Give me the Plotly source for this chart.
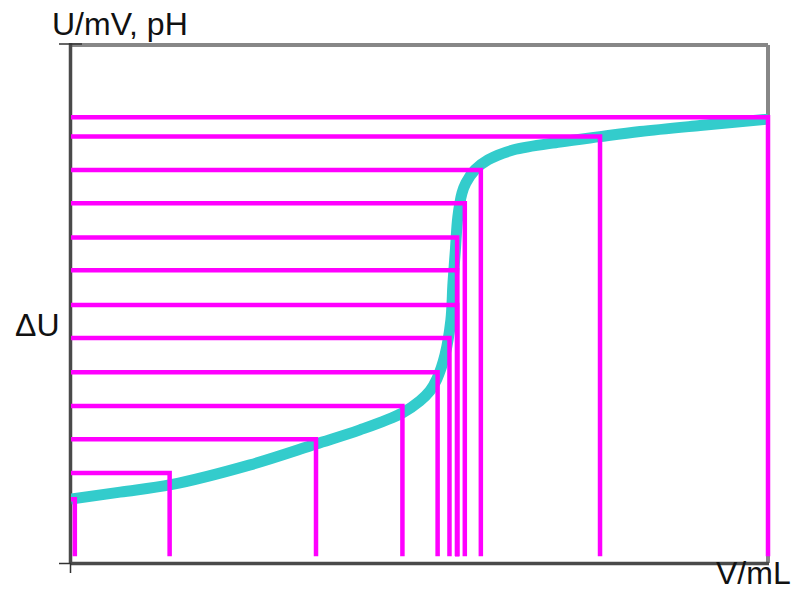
import plotly.graph_objects as go

# Titration curve: titrant volume (mL) vs. measured potential / pH
curve_v = [0, 1.41, 2.87, 5.14, 7.03, 8.29, 9.50, 10.01, 10.30, 10.50, 10.73,
           10.90, 10.96, 11.03, 11.10, 11.22, 11.33, 11.59, 11.97, 12.68, 14.03,
           15.18, 16.33, 18.05, 20.0]
curve_u = [1.90, 2.11, 2.33, 2.92, 3.54, 3.96, 4.46, 4.82, 5.12, 5.48, 6.19,
           7.23, 8.33, 9.32, 10.30, 11.01, 11.31, 11.70, 12.00, 12.29, 12.53,
           12.69, 12.84, 13.02, 13.21]

step_v = [0.11, 2.83, 7.03, 9.51, 10.52, 10.86, 11.08, 11.08, 11.08, 11.30, 11.76, 15.18, 20.0]
step_u = [1.90, 2.68, 3.68, 4.67, 5.68, 6.70, 7.68, 8.71, 9.69, 10.71, 11.70, 12.69, 13.27]
step_floor = 0.2

x_label = "V/mL"
y_label = "U/mV, pH"
step_label = "ΔU"

# Canvas geometry (pixels)
W, H = 796, 592
L, R, T, B = 71, 772, 45, 563
x_max = (R - L) / 34.85
y_max = (B - T) / 33.6


def px(x):
    return (x - L) / (R - L)


def py(y):
    return (B - y) / (B - T)


# Build step polylines: from the U axis across to the volume, then down
sx, sy = [], []
for v, u in zip(step_v, step_u):
    sx += [0, v, v, None]
    sy += [u, u, step_floor, None]

fig = go.Figure()
fig.add_trace(go.Scatter(
    x=curve_v, y=curve_u, mode="lines",
    line=dict(color="#33CCCC", width=11, shape="spline", smoothing=1.0),
    hoverinfo="skip", showlegend=False,
))
fig.add_trace(go.Scatter(
    x=sx, y=sy, mode="lines",
    line=dict(color="#FF00FF", width=4.5),
    hoverinfo="skip", showlegend=False,
))

dark = "#4a4a4a"
grey = "#878787"
shapes = [
    # top and right border
    dict(type="line", xref="paper", yref="paper", x0=px(L), x1=px(768), y0=py(45), y1=py(45),
         line=dict(color=grey, width=4), layer="below"),
    dict(type="line", xref="paper", yref="paper", x0=px(768), x1=px(768), y0=py(45), y1=py(B),
         line=dict(color=grey, width=4), layer="below"),
    # axes
    dict(type="line", xref="paper", yref="paper", x0=px(70.5), x1=px(70.5), y0=py(43), y1=py(B),
         line=dict(color=dark, width=3.5), layer="below"),
    dict(type="line", xref="paper", yref="paper", x0=px(L), x1=px(769), y0=py(563.5), y1=py(563.5),
         line=dict(color=dark, width=3.5), layer="below"),
    # small tick marks at the axis ends
    dict(type="line", xref="paper", yref="paper", x0=px(59), x1=px(82), y0=py(44), y1=py(44),
         line=dict(color="#333333", width=1.5), layer="below"),
    dict(type="line", xref="paper", yref="paper", x0=px(59), x1=px(71), y0=py(563.5), y1=py(563.5),
         line=dict(color="#333333", width=1.5), layer="below"),
    dict(type="line", xref="paper", yref="paper", x0=px(70.5), x1=px(70.5), y0=py(563), y1=py(573),
         line=dict(color="#333333", width=1.5), layer="below"),
]

font = dict(family="Liberation Sans, Arial, sans-serif", size=32, color="#111111")
annotations = [
    dict(text=y_label, xref="paper", yref="paper", x=px(50), y=py(24),
         xanchor="left", yanchor="middle", showarrow=False, font=font),
    dict(text=step_label, xref="paper", yref="paper", x=px(36.5), y=py(325),
         xanchor="center", yanchor="middle", showarrow=False, font=font),
    dict(text=x_label, xref="paper", yref="paper", x=px(753), y=py(573),
         xanchor="center", yanchor="middle", showarrow=False, font=font),
]

fig.update_layout(
    width=W, height=H,
    margin=dict(l=L, r=W - R, t=T, b=H - B, pad=0),
    paper_bgcolor="white", plot_bgcolor="white",
    xaxis=dict(range=[0, x_max], visible=False, fixedrange=True),
    yaxis=dict(range=[0, y_max], visible=False, fixedrange=True),
    shapes=shapes, annotations=annotations,
)

fig.write_html("out.html")
